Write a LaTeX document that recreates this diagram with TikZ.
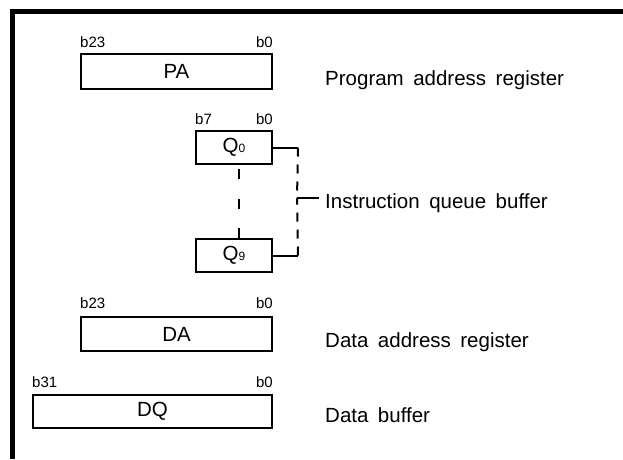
\documentclass[tikz,border=0pt]{standalone}
\usepackage{fontspec}
\setmainfont{Liberation Sans}
\usepackage{tikz}
\usetikzlibrary{positioning, calc}
\newcommand{\widewords}{\spaceskip=9.5pt plus 1pt\relax}
\tikzstyle{reg} = [rectangle, draw=black, line width=2pt, minimum height=34pt, inner sep=0pt, text centered, font=\fontsize{20.5}{23}\selectfont]
\tikzstyle{bit} = [inner sep=0pt, font=\fontsize{15}{17}\selectfont]
\tikzstyle{regtitle} = [inner sep=0pt, anchor=base west, font=\fontsize{20.5}{23}\selectfont\widewords]
\tikzstyle{link} = [line width=2pt]
\tikzstyle{dashlink} = [line width=2pt, dash pattern=on 9pt off 8pt]
\tikzstyle{sparselink} = [line width=2pt, dash pattern=on 10pt off 19.5pt]

\begin{document}
\begin{tikzpicture}[x=1pt, y=-1pt]
    \useasboundingbox (0,0) rectangle (623,459);
    \draw[line width=5.5pt] (12.5,459) -- (12.5,11.5) -- (623,11.5);

    \node[reg, minimum width=191pt, minimum height=35pt] (pa) at (176.5,71.5) {PA};
    \node[reg, minimum width=76pt, minimum height=33pt] (q0) at (234,147.5) {Q{\fontsize{12}{12}\selectfont 0}};
    \node[reg, minimum width=76pt, minimum height=33pt] (q9) at (234,255.5) {Q{\fontsize{12}{12}\selectfont 9}};
    \node[reg, minimum width=191pt] (da) at (176.5,334) {DA};
    \node[reg, minimum width=239pt, minimum height=33pt] (dq) at (152.5,411.5) {DQ};

    \node[bit, anchor=base west] (pahi) at ([yshift=6pt]pa.north west) {b23};
    \node[bit, anchor=base east] (palo) at ([yshift=6pt]pa.north east) {b0};
    \node[bit, anchor=base west] (qhi) at ([yshift=6pt]q0.north west) {b7};
    \node[bit, anchor=base east] (qlo) at ([yshift=6pt]q0.north east) {b0};
    \node[bit, anchor=base west] (dahi) at ([yshift=8pt]da.north west) {b23};
    \node[bit, anchor=base east] (dalo) at ([yshift=8pt]da.north east) {b0};
    \node[bit, anchor=base west] (dqhi) at ([yshift=7pt]dq.north west) {b31};
    \node[bit, anchor=base east] (dqlo) at ([yshift=7pt]dq.north east) {b0};

    \node[regtitle] (patitle) at (325,85) {Program address register};
    \node[regtitle, inner xsep=6pt] (qtitle) at (319,208) {Instruction queue buffer};
    \node[regtitle] (datitle) at (325,347) {Data address register};
    \node[regtitle] (dqtitle) at (325,422) {Data buffer};

    \coordinate (qt) at ([xshift=25pt]q0.east);
    \coordinate (qb) at ([xshift=25pt]q9.east);
    \coordinate (qm) at (297,198);

    \draw[sparselink] ([xshift=5pt]q9.north) -- ([xshift=5pt]q0.south);
    \draw[link] (q0.east) -- (qt);
    \draw[link] (q9.east) -- (qb);
    \draw[dashlink] (qt) -- (qm);
    \draw[dashlink] (qb) -- (qm);
    \draw[link] (qm) -- (qm -| qtitle.west);
\end{tikzpicture}
\end{document}
